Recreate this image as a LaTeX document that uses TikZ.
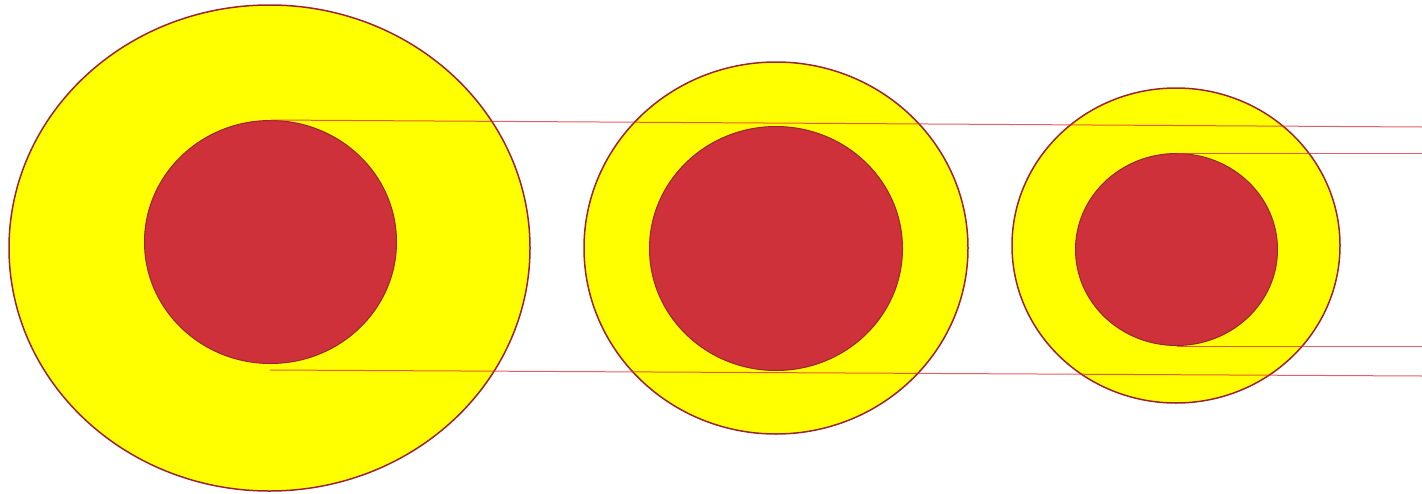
\documentclass[tikz,border=0pt]{standalone}
\usetikzlibrary{shapes.geometric}
\definecolor{ringyellow}{RGB}{255,255,0}
\definecolor{corered}{RGB}{207,49,59}
\definecolor{rimred}{RGB}{155,35,55}
\definecolor{guidered}{RGB}{222,40,55}
\begin{document}
\begin{tikzpicture}[x=1pt,y=-1pt,outer/.style={ellipse,draw=rimred,line width=1.5pt,fill=ringyellow,inner sep=0pt},core/.style={ellipse,draw=rimred,line width=1pt,fill=corered,inner sep=0pt},guide/.style={draw=guidered,opacity=0.75,line width=1pt}]
\useasboundingbox (0,0) rectangle (1422,493);
\node[outer,minimum width=521pt,minimum height=486pt](ringA) at (269.5,248){};
\node[outer,minimum width=384pt,minimum height=372pt](ringB) at (776,248){};
\node[outer,minimum width=328pt,minimum height=315pt](ringC) at (1176,245.5){};
\node[core,minimum width=252pt,minimum height=243pt](coreA) at (270.5,242){};
\node[core,minimum width=253pt,minimum height=244pt](coreB) at (776,248.5){};
\node[core,minimum width=202pt,minimum height=192pt](coreC) at (1176.5,249.5){};
\coordinate(lowA) at (270,370);
\coordinate(endA) at (1422,127);
\coordinate(endB) at (1422,376);
\coordinate(endC) at (1422,153);
\coordinate(endD) at (1422,346);
\draw[guide](coreA.north)--(endA);
\draw[guide](lowA)--(endB);
\draw[guide](coreC.north)--(endC);
\draw[guide](coreC.south)--(endD);
\end{tikzpicture}
\end{document}
